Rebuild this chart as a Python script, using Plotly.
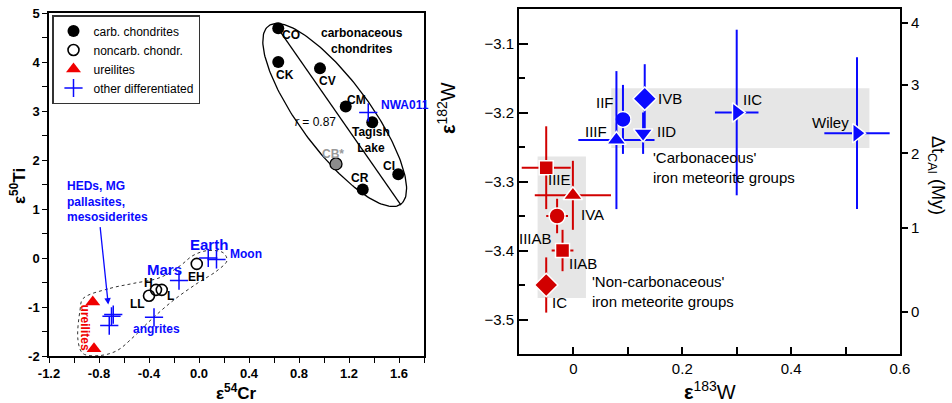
import numpy as np
import plotly.graph_objects as go

# ---------------- Left panel data (eps54Cr vs eps50Ti) ----------------
CARB_NAMES = ["CO", "CK", "CV", "CM", "Tagish<br>Lake", "CR", "CI"]
CARB_CR = [0.634, 0.634, 0.968, 1.174, 1.386, 1.31, 1.594]
CARB_TI = [4.69, 4.00, 3.87, 3.09, 2.77, 1.40, 1.71]

CB_NAME = ["CB*"]
CB_CR = [1.096]
CB_TI = [1.92]

NONCARB_NAMES = ["EH", "H", "L", "LL"]
NONCARB_CR = [-0.018, -0.344, -0.298, -0.40]
NONCARB_TI = [-0.12, -0.65, -0.65, -0.77]

UREI_CR = [-0.85, -0.84]
UREI_TI = [-0.90, -1.85]

DIFF_NAMES = ["Earth", "Moon", "Mars", "angrites", "", "", "", "NWA011"]
DIFF_CR = [0.074, 0.14, -0.16, -0.36, -0.686, -0.70, -0.718, 1.354]
DIFF_TI = [0.0, -0.03, -0.46, -1.21, -1.155, -1.19, -1.38, 2.97]

LEFT_XTICKS = [-1.2, -0.8, -0.4, 0.0, 0.4, 0.8, 1.2, 1.6]
LEFT_XTICKTEXT = ["-1.2", "-0.8", "-0.4", "0.0", "0.4", "0.8", "1.2", "1.6"]
LEFT_YTICKS = [-2, -1, 0, 1, 2, 3, 4, 5]
LEFT_YTICKTEXT = ["-2", "-1", "0", "1", "2", "3", "4", "5"]

# region outline around non-carbonaceous bodies (hand-drawn field)
NC_FIELD_CR = [-0.928, -0.712, -0.528, -0.312, -0.152, -0.048, 0.064, 0.192, 0.224, 0.144,
               -0.016, -0.208, -0.392, -0.528, -0.656, -0.792, -0.928, -0.968, -0.952, -0.928]
NC_FIELD_TI = [-0.83, -0.62, -0.52, -0.40, -0.16, 0.05, 0.15, 0.11, -0.05, -0.26,
               -0.52, -0.87, -1.28, -1.62, -1.89, -1.99, -1.95, -1.68, -1.07, -0.83]

# regression line through carbonaceous chondrites
REG_CR = [0.622, 1.616]
REG_TI = [4.72, 1.08]

# ---------------- Right panel data (eps183W vs eps182W) ----------------
GROUPS = ["IVB", "IIF", "IIIF", "IID", "IIC", "Wiley", "IIIE", "IVA", "IIIAB", "IIAB", "IC"]
E183 = [0.131, 0.091, 0.079, 0.128, 0.30, 0.521, -0.05, -0.001, -0.03, -0.02, -0.05]
E183_ERR = [0.0, 0.015, 0.07, 0.0, 0.04, 0.06, 0.045, 0.07, 0.02, 0.02, 0.0]
E182 = [-3.18, -3.21, -3.24, -3.23, -3.20, -3.23, -3.28, -3.32, -3.35, -3.40, -3.45]
E182_ERR = [0.05, 0.05, 0.10, 0.03, 0.12, 0.11, 0.06, 0.05, 0.025, 0.03, 0.04]
IS_CARB = [True, True, True, True, True, True, False, False, False, False, False]

# Delta t_CAI axis: time labels and their eps182W equivalents
DT_LABELS = ["0", "1", "2", "3", "4"]
DT_EPS182 = [-3.4884, -3.3669, -3.2592, -3.1603, -3.0706]

RIGHT_XTICKS = [0.0, 0.2, 0.4, 0.6]
RIGHT_XTICKTEXT = ["0", "0.2", "0.4", "0.6"]

# group ranges (shaded)
CC_RANGE_E183 = [0.0695, 0.5438]
CC_RANGE_E182 = [-3.2515, -3.165]
NC_RANGE_E183 = [-0.0658, 0.023]
NC_RANGE_E182 = [-3.469, -3.2638]

# ---------------- styles ----------------
FONT = "Liberation Sans, Arial, Helvetica, sans-serif"
BLUE = "#0a0aff"
RED = "#d10000"
W, H = 952, 403

def px_x(p):
    return p / W

def px_y(p):
    return 1 - p / H

SYMBOLS = {"IVB": "diamond", "IIF": "circle", "IIIF": "triangle-up", "IID": "triangle-down",
           "IIC": "triangle-right", "Wiley": "triangle-right", "IIIE": "square",
           "IVA": "triangle-up", "IIIAB": "circle", "IIAB": "square", "IC": "diamond"}
SIZES = {"diamond": 18, "circle": 16, "triangle-up": 17, "triangle-down": 17,
         "triangle-right": 17, "square": 14}
# label placement: (xanchor, xshift, yshift)
RLABEL = {"IVB": ("left", 11, 0), "IIF": ("right", -7, 17), "IIIF": ("right", -7, 9),
          "IID": ("left", 12, 2), "IIC": ("left", 4, 13), "Wiley": ("center", -27, 11),
          "IIIE": ("center", 13, -12), "IVA": ("left", 6, -19), "IIIAB": ("right", -3, -22),
          "IIAB": ("left", 4, -13), "IC": ("center", 13, -17)}

LLABEL = {"CO": ("center", 12.5, -7), "CK": ("center", 7, -13), "CV": ("center", 7, -13),
          "CM": ("center", 11, 7), "Tagish<br>Lake": ("center", -1, -18), "CR": ("center", -3, 11),
          "CI": ("center", -9, 8), "CB*": ("center", -3, 10),
          "EH": ("center", 0, -13), "H": ("center", -8, 7), "L": ("center", 9, -6), "LL": ("center", -12, -8),
          "Earth": ("center", 1, 14), "Moon": ("left", 11, 5), "Mars": ("center", -15, 11),
          "angrites": ("center", 2, -12), "NWA011": ("left", 11, 7)}

fig = go.Figure()

# ---- left panel ----
ell_c = (1.0856, 2.918)
a_px, b_px, th = 111.0, 35.0, np.deg2rad(53.4)
t = np.linspace(0, 2 * np.pi, 200)
ex = ell_c[0] + (a_px * np.cos(t) * np.cos(th) - b_px * np.sin(t) * np.sin(th)) / 125.0
ey = ell_c[1] - (a_px * np.cos(t) * np.sin(th) + b_px * np.sin(t) * np.cos(th)) / 49.0
fig.add_trace(go.Scatter(x=ex, y=ey, mode="lines", line=dict(color="black", width=1.3),
                         showlegend=False, hoverinfo="skip", xaxis="x", yaxis="y"))
fig.add_trace(go.Scatter(x=REG_CR, y=REG_TI, mode="lines", line=dict(color="black", width=1.3),
                         showlegend=False, hoverinfo="skip", xaxis="x", yaxis="y"))
fig.add_trace(go.Scatter(x=NC_FIELD_CR, y=NC_FIELD_TI, mode="lines",
                         line=dict(color="#333", width=1, dash="dot", shape="spline", smoothing=1.0),
                         showlegend=False, hoverinfo="skip", xaxis="x", yaxis="y"))

fig.add_trace(go.Scatter(x=CARB_CR, y=CARB_TI, mode="markers", name="carb. chondrites",
                         marker=dict(symbol="circle", size=12, color="black"),
                         xaxis="x", yaxis="y"))
fig.add_trace(go.Scatter(x=CB_CR, y=CB_TI, mode="markers", showlegend=False,
                         marker=dict(symbol="circle", size=12, color="#8c8c8c",
                                     line=dict(color="black", width=1.3)),
                         xaxis="x", yaxis="y"))
fig.add_trace(go.Scatter(x=NONCARB_CR, y=NONCARB_TI, mode="markers", name="noncarb. chondr.",
                         marker=dict(symbol="circle-open", size=11, color="black",
                                     line=dict(color="black", width=1.6)),
                         xaxis="x", yaxis="y"))
fig.add_trace(go.Scatter(x=UREI_CR, y=UREI_TI, mode="markers", name="ureilites",
                         marker=dict(symbol="triangle-up", size=13, color="#f00000"),
                         xaxis="x", yaxis="y"))
fig.add_trace(go.Scatter(x=DIFF_CR, y=DIFF_TI, mode="markers", name="other differentiated",
                         marker=dict(symbol="cross-thin", size=13, color=BLUE,
                                     line=dict(color=BLUE, width=1.5)),
                         xaxis="x", yaxis="y"))

# ---- right panel ----
for i, g in enumerate(GROUPS):
    col = BLUE if IS_CARB[i] else RED
    sym = SYMBOLS[g]
    fig.add_trace(go.Scatter(
        x=[E183[i]], y=[E182[i]], mode="markers", showlegend=False,
        error_x=dict(type="data", array=[E183_ERR[i]], color=col, thickness=2, width=0,
                     visible=E183_ERR[i] > 0),
        error_y=dict(type="data", array=[E182_ERR[i]], color=col, thickness=2, width=0),
        marker=dict(symbol=sym, size=SIZES[sym], color=col, line=dict(color="white", width=1.5)),
        xaxis="x2", yaxis="y2"))
fig.add_trace(go.Scatter(x=[None], y=[None], mode="markers", showlegend=False,
                         hoverinfo="skip", xaxis="x2", yaxis="y3"))

shapes = [
    dict(type="rect", xref="x2", yref="y2", x0=CC_RANGE_E183[0], x1=CC_RANGE_E183[1],
         y0=CC_RANGE_E182[0], y1=CC_RANGE_E182[1], fillcolor="#e6e6e6", line=dict(width=0), layer="below"),
    dict(type="rect", xref="x2", yref="y2", x0=NC_RANGE_E183[0], x1=NC_RANGE_E183[1],
         y0=NC_RANGE_E182[0], y1=NC_RANGE_E182[1], fillcolor="#e6e6e6", line=dict(width=0), layer="below"),
]

ann = []
def add_left_labels(names, xs, ys, color):
    for n, x, y in zip(names, xs, ys):
        if not n:
            continue
        xa, xs_, ys_ = LLABEL[n]
        big = n in ("Earth", "Mars")
        ann.append(dict(x=x, y=y, xref="x", yref="y", text=n, showarrow=False,
                        xanchor=xa, yanchor="middle", xshift=xs_, yshift=ys_,
                        font=dict(family=FONT, size=15 if big else 12, color=color, weight="bold")))

add_left_labels(CARB_NAMES, CARB_CR, CARB_TI, "black")
add_left_labels(CB_NAME, CB_CR, CB_TI, "#999999")
add_left_labels(NONCARB_NAMES, NONCARB_CR, NONCARB_TI, "black")
add_left_labels(DIFF_NAMES, DIFF_CR, DIFF_TI, BLUE)

ann.append(dict(x=1.30, y=4.43, xref="x", yref="y", text="carbonaceous<br>chondrites", showarrow=False,
                xanchor="center", yanchor="middle",
                font=dict(family=FONT, size=12, color="black", weight="bold")))
ann.append(dict(x=0.93, y=2.78, xref="x", yref="y", text="<i>r</i> = 0.87", showarrow=False,
                xanchor="center", yanchor="middle",
                font=dict(family=FONT, size=12, color="black")))
ann.append(dict(x=-0.912, y=-1.42, xref="x", yref="y", text="ureilites", showarrow=False, textangle=90,
                xanchor="center", yanchor="middle",
                font=dict(family=FONT, size=12, color="#f00000", weight="bold")))
ann.append(dict(x=-1.075, y=1.16, xref="x", yref="y", text="HEDs, MG<br>pallasites,<br>mesosiderites",
                showarrow=False, xanchor="left", yanchor="middle", align="left",
                font=dict(family=FONT, size=12, color=BLUE, weight="bold")))
ann.append(dict(x=-0.726, y=-0.95, ax=-0.792, ay=0.66, xref="x", yref="y", axref="x", ayref="y",
                text="", showarrow=True, arrowhead=2, arrowsize=1, arrowwidth=1.3, arrowcolor=BLUE))

def paper_text(px, py, text, size, angle=0, bold=False):
    f = dict(family=FONT, size=size, color="black")
    if bold:
        f["weight"] = "bold"
    return dict(x=px_x(px), y=px_y(py), xref="paper", yref="paper", text=text, showarrow=False,
                xanchor="center", yanchor="middle", textangle=angle, font=f)

ann.append(paper_text(18, 186, "ε<sup>50</sup>Ti", 17, -90, True))
ann.append(paper_text(236, 392, "ε<sup>54</sup>Cr", 17, 0, True))

for i, g in enumerate(GROUPS):
    xa, xs_, ys_ = RLABEL[g]
    ann.append(dict(x=E183[i], y=E182[i], xref="x2", yref="y2", text=g, showarrow=False,
                    xanchor=xa, yanchor="middle", xshift=xs_, yshift=ys_,
                    font=dict(family=FONT, size=15, color="black")))
ann.append(dict(x=0.142, y=-3.28, xref="x2", yref="y2", text="'Carbonaceous'<br>iron meteorite groups",
                showarrow=False, xanchor="left", yanchor="middle", align="left",
                font=dict(family=FONT, size=15, color="black")))
ann.append(dict(x=0.031, y=-3.46, xref="x2", yref="y2", text="'Non-carbonaceous'<br>iron meteorite groups",
                showarrow=False, xanchor="left", yanchor="middle", align="left",
                font=dict(family=FONT, size=15, color="black")))

ann.append(paper_text(447, 108, "<b>ε</b><sup>182</sup>W", 20, -90))
ann.append(paper_text(710, 390, "<b>ε</b><sup>183</sup>W", 20, 0))
ann.append(paper_text(937, 175, "Δt<sub>CAI</sub> (My)", 18, 90))

left_tickfont = dict(family=FONT, size=13, color="black", weight="bold")
right_tickfont = dict(family=FONT, size=15, color="black")

fig.update_layout(
    width=W, height=H, margin=dict(l=0, r=0, t=0, b=0, autoexpand=False),
    paper_bgcolor="white", plot_bgcolor="white",
    font=dict(family=FONT),
    showlegend=True,
    legend=dict(x=px_x(52), y=px_y(15), xanchor="left", yanchor="top",
                bgcolor="white", bordercolor="#333", borderwidth=1.5,
                font=dict(family=FONT, size=12, color="black"),
                itemsizing="trace", tracegroupgap=0),
    xaxis=dict(domain=[px_x(49), px_x(424)], range=[-1.2, 1.8], anchor="y", automargin=False,
               tickmode="array", tickvals=LEFT_XTICKS, ticktext=LEFT_XTICKTEXT,
               ticks="outside", ticklen=5, tickwidth=1.3, tickcolor="black",
               minor=dict(dtick=0.2, tick0=-1.2, ticks="outside", ticklen=5, tickwidth=1.3, tickcolor="black"),
               showline=True, linecolor="black", linewidth=1.5, mirror=True,
               showgrid=False, zeroline=False, tickfont=left_tickfont),
    yaxis=dict(domain=[px_y(356), px_y(13)], range=[-2, 5], anchor="x", automargin=False,
               tickmode="array", tickvals=LEFT_YTICKS, ticktext=LEFT_YTICKTEXT,
               ticks="outside", ticklen=5, tickwidth=1.3, tickcolor="black",
               minor=dict(dtick=0.5, tick0=0, ticks="outside", ticklen=5, tickwidth=1.3, tickcolor="black"),
               showline=True, linecolor="black", linewidth=1.5, mirror=True,
               showgrid=False, zeroline=False, tickfont=left_tickfont),
    xaxis2=dict(domain=[px_x(519), px_x(900)], range=[-0.1, 0.6], anchor="y2", automargin=False,
                tickmode="array", tickvals=RIGHT_XTICKS, ticktext=RIGHT_XTICKTEXT,
                ticks="inside", ticklen=7, tickwidth=2, tickcolor="black",
                minor=dict(dtick=0.1, tick0=0, ticks="inside", ticklen=7, tickwidth=2, tickcolor="black"),
                showline=True, linecolor="black", linewidth=2, mirror=True,
                showgrid=False, zeroline=False, tickfont=right_tickfont),
    yaxis2=dict(domain=[px_y(354), px_y(9)], range=[-3.55, -3.05], anchor="x2", automargin=False,
                tickmode="linear", tick0=-3.5, dtick=0.1, tickformat=".1f",
                ticks="inside", ticklen=9, tickwidth=2, tickcolor="black",
                minor=dict(dtick=0.05, tick0=-3.5, ticks="inside", ticklen=6, tickwidth=2, tickcolor="black"),
                showline=True, linecolor="black", linewidth=2, mirror=False,
                showgrid=False, zeroline=False, tickfont=right_tickfont),
    yaxis3=dict(overlaying="y2", side="right", anchor="x2", range=[-3.55, -3.05], automargin=False,
                tickmode="array", tickvals=DT_EPS182, ticktext=DT_LABELS,
                ticks="outside", ticklen=6, tickwidth=2, tickcolor="black",
                showline=True, linecolor="black", linewidth=2,
                showgrid=False, zeroline=False, tickfont=right_tickfont),
    shapes=shapes,
    annotations=ann,
)

fig.write_html("out.html", config={"displayModeBar": False},
               post_script="document.body.style.margin='0px';document.body.style.overflow='hidden';")
